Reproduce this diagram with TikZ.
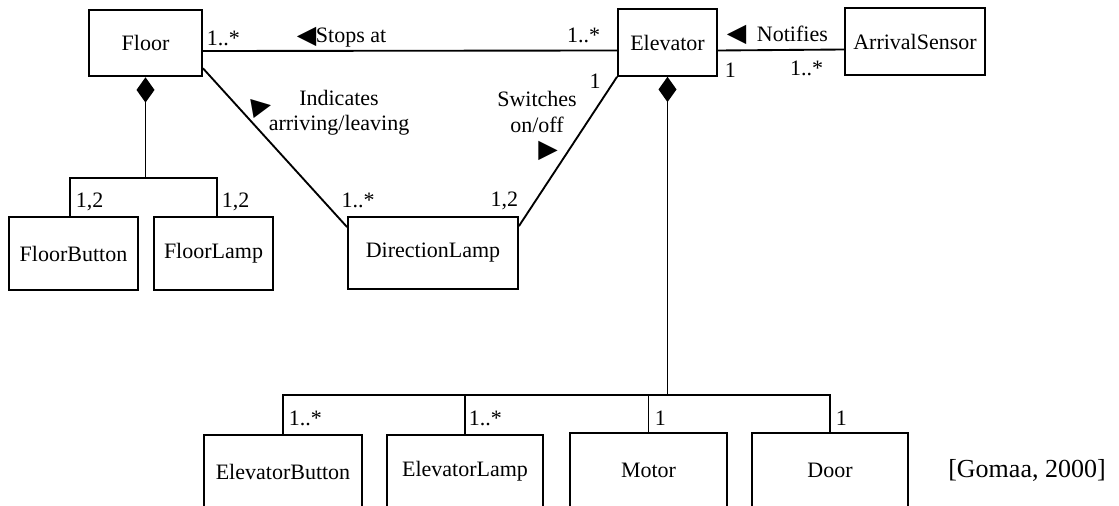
\documentclass[tikz,border=0pt]{standalone}
\usepackage{fontspec}
\setmainfont{Liberation Serif}
\newfontfamily\symf{DejaVu Sans}
\usepackage{tikz}
\usetikzlibrary{positioning,calc,arrows.meta}
\begin{document}
\begin{tikzpicture}[x=0.75pt,y=-0.75pt,font=\fontsize{16.5}{19}\selectfont,line width=1.4pt]
\tikzstyle{C}=[draw,line width=1.4pt,minimum height=50pt,align=center,inner sep=0pt]
\tikzstyle{M}=[inner sep=0pt,align=center]
\tikzstyle{T}=[inner sep=0pt,font=\symf\fontsize{19}{19}\selectfont]
\tikzstyle{A}=[line width=1.4pt]
\tikzstyle{K}=[line width=1.4pt,{Diamond[length=19pt,width=13.5pt]}-]
\useasboundingbox (0,0) rectangle (1119,506);
\node[C,minimum width=84.75pt] (floor) at (145.5,43) {Floor}; \node[C,minimum width=74.25pt] (elev) at (667.5,42.5) {Elevator};
\node[C,minimum width=105pt] (sens) at (915,41.5) {ArrivalSensor};
\node[C,minimum width=96.75pt,minimum height=54.75pt] (fbtn) at (73.5,253.5) {FloorButton}; \node[C,minimum width=89.25pt,minimum height=54.75pt] (flmp) at (213.5,253.5) {FloorLamp};
\node[C,minimum width=127.5pt,minimum height=54pt] (dlmp) at (433,253) {DirectionLamp};
\node[C,minimum width=118.5pt,minimum height=55pt] (ebtn) at (283,471.5) {ElevatorButton}; \node[C,minimum width=117pt,minimum height=55pt] (elmp) at (465,471.5) {ElevatorLamp};
\node[C,minimum width=117.75pt,minimum height=56pt] (mot) at (648.5,470.5) {Motor}; \node[C,minimum width=117pt,minimum height=56pt] (door) at (830,470.5) {Door};
\coordinate (fbar) at ([yshift=-75.75pt]floor.south); \coordinate (ebar) at ([yshift=-238.5pt]elev.south);
\draw[A] ([yshift=-6pt]floor.east) -- ([yshift=-6pt]elev.west); \draw[A] ([yshift=-6pt]elev.east) -- ([yshift=-6pt]sens.west);
\draw[A] ([yshift=6.75pt]floor.south east) -- ([yshift=-8.25pt]dlmp.north west); \draw[A] (elev.south west) -- ([yshift=-7.5pt]dlmp.north east);
\draw[K] (floor.south) -- (fbar); \draw[A] ([xshift=-2.5pt]fbtn.north) |- (fbar) -| ([xshift=2.5pt]flmp.north);
\draw[K] (elev.south) -- (ebar); \draw[A] (ebtn.north) |- (ebar) -| (door.north);
\draw[A] (elmp.north) |- (ebar); \draw[A] (mot.north) |- (ebar);
\node[M,anchor=west] (m1) at (206,38) {1..*}; \node[T,anchor=west] (t3) at (296,37) {◀}; \node[M,anchor=west] (stops) at (315,38) {Stops at};
\node[M,anchor=east] (m2) at (601,35) {1..*}; \node[T,anchor=west] (t4) at (726,35) {◀}; \node[M,anchor=west] (notif) at (756,34) {Notifies};
\node[M,anchor=west] (m3) at (724,70) {1}; \node[M,anchor=east] (m4) at (824,68) {1..*};
\node[M] (m5) at (595,81) {1}; \node[M] (sw) at (537,112) {Switches\\on/off};
\node[T] (t2) at (548,151) {▶}; \node[M,anchor=east] (m6) at (519,201) {1,2};
\node[M] (ind) at (339,113) {Indicates\\arriving/leaving}; \node[T,rotate=10] (t1) at (262,107) {▶};
\node[M] (m7) at (358,200) {1..*};
\node[M,anchor=west] (m8) at (75,202) {1,2}; \node[M,anchor=west] (m9) at (221,202) {1,2};
\node[M,anchor=west] (m10) at (288,418) {1..*}; \node[M,anchor=west] (m11) at (468,418) {1..*};
\node[M,anchor=west] (m12) at (654,418) {1}; \node[M,anchor=west] (m13) at (835,418) {1};
\node[M,font=\fontsize{19.5}{22}\selectfont] (src) at (1027,470) {[Gomaa, 2000]};
\end{tikzpicture}
\end{document}
